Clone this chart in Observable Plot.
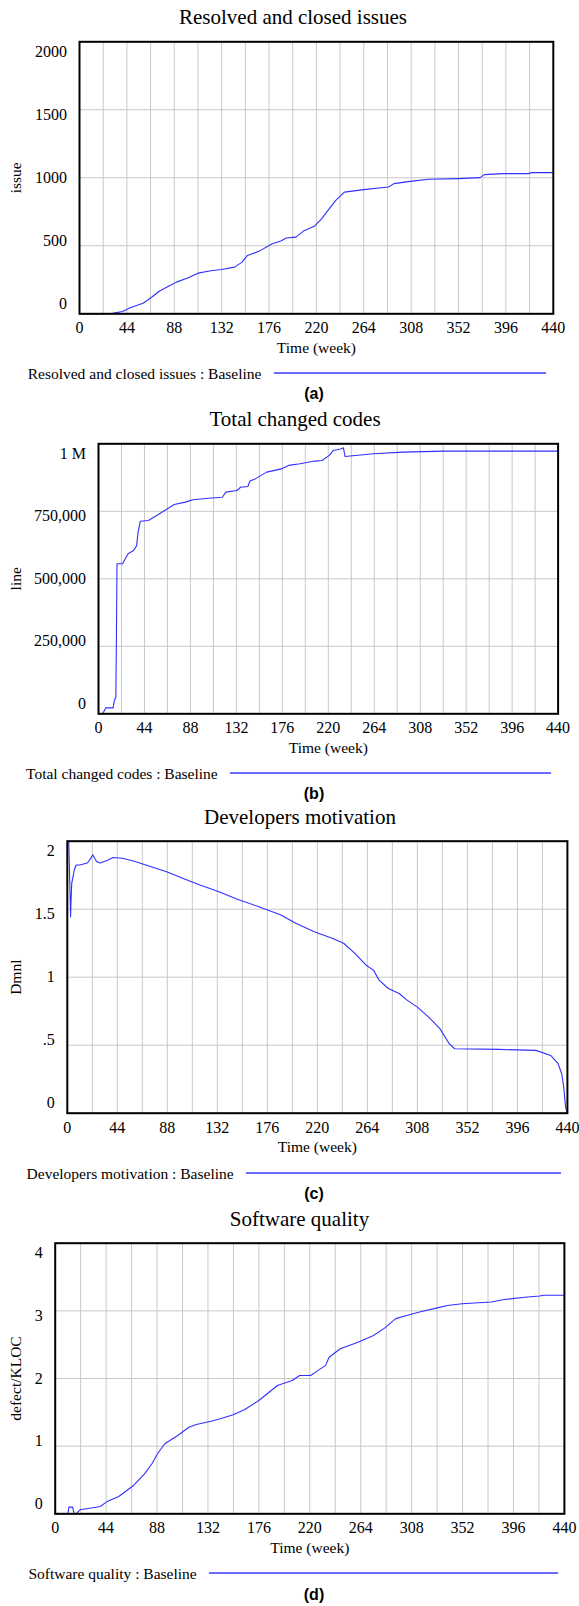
<!DOCTYPE html>
<html>
<head>
<meta charset="utf-8">
<script src="https://cdn.jsdelivr.net/npm/d3@7"></script>
<script src="https://cdn.jsdelivr.net/npm/@observablehq/plot@0.6"></script>
<style>
  html, body { margin: 0; padding: 0; background: #fff; }
  #page { position: relative; width: 579px; height: 1606px; overflow: hidden; background: #fff; }
  .panel { position: absolute; left: 0; width: 579px; height: 400px; }
  .panel svg { position: absolute; left: 0; top: 0; }
  .abs { position: absolute; white-space: nowrap; line-height: 1; color: #000; }
  .title { font-family: "Liberation Serif", serif; font-size: 21px; transform: translateX(-50%); }
  .legend { font-family: "Liberation Serif", serif; font-size: 15.5px; display: flex; align-items: center; }
  .legend .ln { flex: 1; height: 1.6px; margin-left: 12.5px; background: #6a6aff; position: relative; top: -0.5px; }
  .cap { font-family: "Liberation Sans", Arial, sans-serif; font-weight: bold; font-size: 16px; transform: translateX(-50%); }
</style>
</head>
<body>
<div id="page"></div>
<script>
// ---------- shared axis data ----------
const xTickWeeks = [0, 44, 88, 132, 176, 220, 264, 308, 352, 396, 440];
const xGridWeeks = [22, 44, 66, 88, 110, 132, 154, 176, 198, 220, 242, 264, 286, 308, 330, 352, 374, 396, 418];

// ---------- (a) Resolved and closed issues ----------
const weeksA = [0, 28, 32, 40, 47, 59, 67, 74, 84, 90, 101, 110, 122, 132, 144, 151, 156, 167, 179, 187, 192, 201, 208, 218, 225, 232, 238, 246, 264, 287, 292, 307, 324, 352, 372, 376, 393, 417, 420, 440];
const issues = [0, 0, 5, 17, 44, 78, 122, 166, 208, 233, 265, 299, 316, 326, 343, 380, 429, 461, 515, 535, 557, 564, 608, 643, 700, 773, 834, 895, 913, 932, 957, 974, 989, 994, 1001, 1023, 1031, 1031, 1038, 1038];
const issueTicks = [2000, 1500, 1000, 500, 0];
const issueTickLabels = ["2000", "1500", "1000", "500", "0"];

// ---------- (b) Total changed codes ----------
const weeksB = [0, 4, 7, 14, 15.3, 16.6, 17.2, 17.7, 23, 28.3, 33.6, 36.5, 37.9, 40, 47.8, 58.4, 72.5, 83.2, 90.2, 108, 118.5, 122, 132.6, 136, 143, 145, 150, 161, 175, 182, 193, 207, 214, 221, 224.6, 231.7, 234.5, 236, 263.5, 291.7, 330.7, 440];
const changedCodes = [0, 0, 22000, 22000, 52000, 60000, 300000, 556000, 556000, 593000, 605000, 623000, 673000, 713000, 716000, 741000, 775000, 784000, 793000, 799000, 802000, 821000, 827000, 839000, 842000, 862000, 870000, 895000, 907000, 920000, 926000, 936000, 938000, 957000, 975000, 981000, 985000, 953000, 963000, 969000, 973000, 973000];
const codeTicks = [1000000, 750000, 500000, 250000, 0];
const codeTickLabels = ["1 M", "750,000", "500,000", "250,000", "0"];

// ---------- (c) Developers motivation ----------
const weeksC = [0, 1.3, 2.9, 3.2, 3.9, 6.2, 7.8, 11, 17.6, 20.8, 22.4, 25.7, 28.9, 35.5, 40.3, 48.4, 58.2, 71.1, 87.4, 103.7, 116.7, 132.9, 149, 168.6, 188, 201, 217.3, 233.6, 243.4, 253, 262.9, 269.4, 274.3, 282.4, 292, 298.6, 308, 318, 327.8, 336, 340.8, 379.8, 412.3, 425.3, 431.8, 435, 436.8, 438.4, 440];
const motivation = [2.0, 2.0, 1.444, 1.54, 1.69, 1.79, 1.825, 1.825, 1.84, 1.875, 1.9, 1.85, 1.84, 1.86, 1.88, 1.875, 1.855, 1.82, 1.776, 1.72, 1.678, 1.63, 1.575, 1.518, 1.457, 1.396, 1.334, 1.285, 1.248, 1.175, 1.088, 1.052, 0.978, 0.917, 0.88, 0.833, 0.78, 0.707, 0.622, 0.511, 0.474, 0.469, 0.462, 0.425, 0.364, 0.29, 0.19, 0.044, 0];
const motivationTicks = [2, 1.5, 1, 0.5, 0];
const motivationTickLabels = ["2", "1.5", "1", ".5", "0"];

// ---------- (d) Software quality ----------
const weeksD = [0, 11, 11.8, 15, 16.5, 18, 21.4, 32.5, 39, 45.3, 54.9, 67.7, 77.2, 83.6, 88.4, 94.7, 105.9, 115.5, 121.9, 134.6, 142.6, 153.8, 163.4, 176, 192, 204.8, 211.2, 220.8, 227.2, 233.5, 236.7, 246.3, 262.2, 275, 284.6, 294.2, 303.7, 316.5, 329.3, 338.8, 351.6, 377, 386.6, 405.8, 418.6, 421.7, 440];
const quality = [0, 0, 0.098, 0.098, 0, 0, 0.059, 0.089, 0.108, 0.187, 0.256, 0.419, 0.59, 0.74, 0.887, 1.035, 1.157, 1.28, 1.32, 1.369, 1.404, 1.463, 1.537, 1.675, 1.897, 1.97, 2.045, 2.045, 2.12, 2.19, 2.315, 2.44, 2.54, 2.635, 2.745, 2.885, 2.93, 2.99, 3.04, 3.08, 3.105, 3.13, 3.165, 3.2, 3.22, 3.23, 3.23];
const qualityTicks = [4, 3, 2, 1, 0];
const qualityTickLabels = ["4", "3", "2", "1", "0"];

// ---------- panel layout ----------
const panels = [
  {title: "Resolved and closed issues", yLabel: "issue", legend: "Resolved and closed issues : Baseline", caption: "(a)",
   weeks: weeksA, values: issues, ticks: issueTicks, tickLabels: issueTickLabels, domain: [0, 2000],
   top: 0, mt: 41.3, mb: 86.7, ml: 79, mr: 26.2, titleX: 293, titleBase: 25, legX: 27.7, legBase: 379, capX: 314, capBase: 400},
  {title: "Total changed codes", yLabel: "line", legend: "Total changed codes : Baseline", caption: "(b)",
   weeks: weeksB, values: changedCodes, ticks: codeTicks, tickLabels: codeTickLabels, domain: [0, 1000000],
   top: 400, mt: 43.3, mb: 86.7, ml: 98, mr: 21.4, titleX: 295, titleBase: 26.7, legX: 26, legBase: 379, capX: 314, capBase: 400},
  {title: "Developers motivation", yLabel: "Dmnl", legend: "Developers motivation : Baseline", caption: "(c)",
   weeks: weeksC, values: motivation, ticks: motivationTicks, tickLabels: motivationTickLabels, domain: [0, 2],
   top: 800, mt: 40.7, mb: 87.3, ml: 66.8, mr: 12.1, titleX: 300, titleBase: 25, legX: 26.6, legBase: 378.5, capX: 314, capBase: 400},
  {title: "Software quality", yLabel: "defect/KLOC", legend: "Software quality : Baseline", caption: "(d)",
   weeks: weeksD, values: quality, ticks: qualityTicks, tickLabels: qualityTickLabels, domain: [0, 4],
   top: 1200, mt: 42.7, mb: 86.7, ml: 54.7, mr: 15.1, titleX: 299.5, titleBase: 26.7, legX: 28.4, legBase: 379, capX: 314, capBase: 401}
];

const page = document.getElementById("page");

panels.forEach(p => {
  const div = document.createElement("div");
  div.className = "panel";
  div.style.top = p.top + "px";
  page.appendChild(div);

  const data = p.weeks.map((w, i) => ({week: w, value: p.values[i]}));
  const n = p.ticks.length;

  const yAxes = p.ticks.map((t, i) => Plot.axisY([t], {
    tickSize: 0, tickPadding: 12.5, label: null, fontSize: 16,
    tickFormat: () => p.tickLabels[i],
    dy: 10 - 20 * i / (n - 1)
  }));

  const svg = Plot.plot({
    width: 579, height: 400,
    marginTop: p.mt, marginBottom: p.mb, marginLeft: p.ml, marginRight: p.mr,
    x: {domain: [0, 440]},
    y: {domain: p.domain},
    style: {background: "transparent", fontFamily: "Liberation Serif, serif", fontSize: "16px", color: "#000", overflow: "visible"},
    marks: [
      Plot.ruleX(xGridWeeks, {stroke: "#c8c8c8", strokeWidth: 1}),
      Plot.ruleY(p.ticks, {stroke: "#c8c8c8", strokeWidth: 1}),
      Plot.line(data, {x: "week", y: "value", stroke: "#3030ff", strokeWidth: 1.1}),
      Plot.frame({stroke: "#000", strokeWidth: 2}),
      Plot.axisX(xTickWeeks, {tickSize: 0, tickPadding: 8, label: null, fontSize: 16, tickFormat: d => String(d)}),
      ...yAxes,
      Plot.text(["Time (week)"], {frameAnchor: "bottom", dy: 34, lineAnchor: "middle", textAnchor: "middle", fontSize: 15.5}),
      Plot.text([p.yLabel], {frameAnchor: "left", dx: 16 - p.ml, rotate: -90, lineAnchor: "middle", textAnchor: "middle", fontSize: 15.5})
    ]
  });
  div.appendChild(svg);

  const title = document.createElement("div");
  title.className = "abs title";
  title.textContent = p.title;
  title.style.left = p.titleX + "px";
  title.style.top = (p.titleBase - 0.8375 * 21) + "px";
  div.appendChild(title);

  const lineEnd = 579 - p.mr - 6.3;
  const leg = document.createElement("div");
  leg.className = "abs legend";
  leg.style.left = p.legX + "px";
  leg.style.width = (lineEnd - p.legX) + "px";
  leg.style.top = (p.legBase - 0.8375 * 15.5) + "px";
  const lt = document.createElement("span");
  lt.textContent = p.legend;
  const ln = document.createElement("span");
  ln.className = "ln";
  leg.appendChild(lt);
  leg.appendChild(ln);
  div.appendChild(leg);

  const cap = document.createElement("div");
  cap.className = "abs cap";
  cap.textContent = p.caption;
  cap.style.left = p.capX + "px";
  cap.style.top = (p.capBase - 0.8465 * 16) + "px";
  div.appendChild(cap);
});
</script>
</body>
</html>
